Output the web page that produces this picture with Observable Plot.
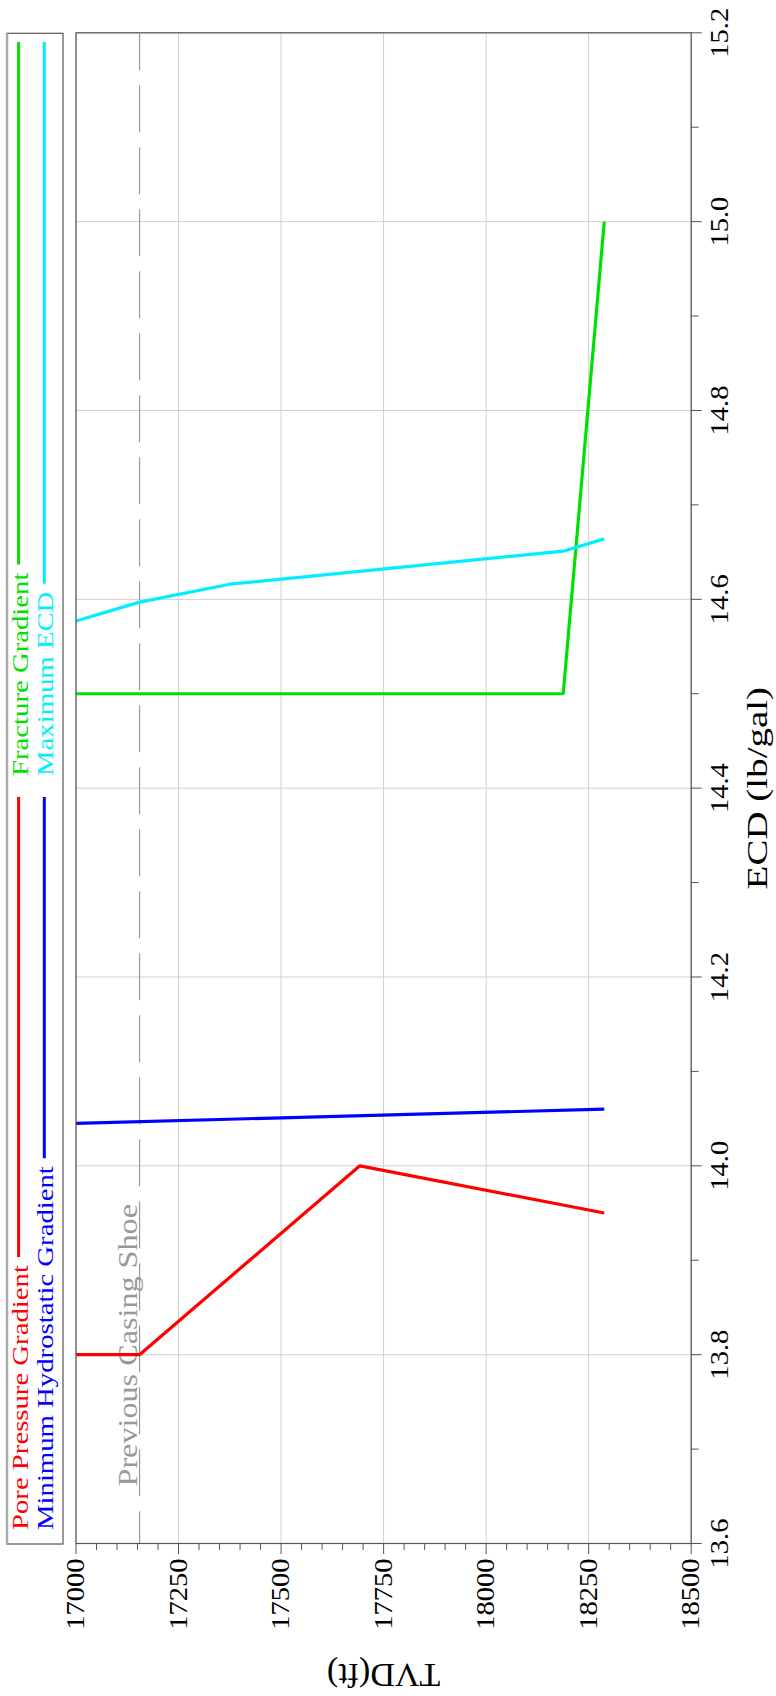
<!DOCTYPE html>
<html><head><meta charset="utf-8">
<script src="https://cdn.jsdelivr.net/npm/d3@7"></script>
<script src="https://cdn.jsdelivr.net/npm/@observablehq/plot@0.6"></script>
<style>
html,body{margin:0;padding:0;background:#fff;}
body{width:776px;height:1696px;overflow:hidden;position:relative;}
#rot{position:absolute;left:0;top:0;width:1696px;height:776px;transform-origin:0 0;transform:translate(0px,1696px) rotate(-90deg);}
#chart,#legend{position:absolute;left:0;top:0;}
</style></head><body>
<div id="rot"><div id="chart"></div><svg id="legend" width="1696" height="72"></svg></div>
<script>
// ---------- data ----------
const seriesNames  = ["Pore Pressure Gradient", "Minimum Hydrostatic Gradient", "Fracture Gradient", "Maximum ECD"];
const seriesColors = ["#ff0000", "#0000ff", "#00e000", "#00eeff"];

const porePressureTVD = [17000, 17155, 17692, 18288];
const porePressureECD = [13.80, 13.80, 14.00, 13.95];

const minHydrostaticTVD = [17000, 18288];
const minHydrostaticECD = [14.045, 14.060];

const fractureTVD = [17000, 18188, 18288];
const fractureECD = [14.50, 14.50, 15.00];

const maxEcdTVD = [17000, 17155, 17375, 18188, 18288];
const maxEcdECD = [14.577, 14.597, 14.616, 14.651, 14.664];

const shoeTVD = [17155];
const shoeLabels = ["Previous Casing Shoe"];

const ecdTicks = [13.6, 13.8, 14.0, 14.2, 14.4, 14.6, 14.8, 15.0, 15.2];
const tvdTicks = [17000, 17250, 17500, 17750, 18000, 18250, 18500];
const ecdDomain = [13.6, 15.2];
const tvdDomain = [17000, 18500];
const xLabel = "ECD (lb/gal)";
const yLabel = "TVD(ft)";

// ---------- build table ----------
const seriesTVD = [porePressureTVD, minHydrostaticTVD, fractureTVD, maxEcdTVD];
const seriesECD = [porePressureECD, minHydrostaticECD, fractureECD, maxEcdECD];
const rows = seriesNames.flatMap((name, k) => seriesTVD[k].map((t, i) => ({series: name, tvd: t, ecd: seriesECD[k][i]})));
const shoe = shoeTVD.map((t, i) => ({tvd: t, label: shoeLabels[i]}));
const ecdMinor = d3.range(ecdTicks.length - 1).map(i => +((ecdTicks[i] + ecdTicks[i + 1]) / 2).toFixed(2));
const tvdMinor = d3.range(tvdDomain[0], tvdDomain[1] + 1, 50).filter(v => !tvdTicks.includes(v));

const W = 1696, H = 776;
const frameCol = "#555";
const gridCol = "#d0d0d0";

const svg = Plot.plot({
  width: W, height: H,
  marginLeft: 152, marginRight: 33.3, marginTop: 75.5, marginBottom: 85.3,
  x: {domain: ecdDomain},
  y: {domain: tvdDomain, reverse: true},
  color: {domain: seriesNames, range: seriesColors},
  style: {fontFamily: "'Liberation Serif', serif", fontSize: "25.5px", color: "#000", background: "transparent", overflow: "visible"},
  marks: [
    Plot.gridX({ticks: ecdTicks, stroke: gridCol, strokeOpacity: 1, strokeWidth: 1}),
    Plot.gridY({ticks: tvdTicks, stroke: gridCol, strokeOpacity: 1, strokeWidth: 1}),
    Plot.ruleY(shoe, {y: "tvd", x1: () => ecdDomain[1], x2: () => ecdDomain[0], stroke: "#9a9a9a", strokeWidth: 1.2, strokeDasharray: "47,15", strokeDashoffset: 10}),
    Plot.text(shoe, {y: "tvd", text: "label", frameAnchor: "left", dx: 57, dy: -2.5, textAnchor: "start", lineAnchor: "bottom", fill: "#999", fontSize: 28}),
    Plot.line(rows, {x: "ecd", y: "tvd", z: "series", stroke: "series", strokeWidth: 3.2, strokeLinejoin: "miter", strokeLinecap: "butt"}),
    Plot.frame({stroke: frameCol, strokeWidth: 1.2}),
    Plot.axisX({ticks: ecdTicks, anchor: "bottom", tickSize: 11, tickPadding: 8, tickFormat: d => d.toFixed(1), stroke: frameCol, label: null}),
    Plot.axisX({ticks: ecdMinor, anchor: "bottom", tickSize: 8, tickFormat: () => "", stroke: frameCol, label: null}),
    Plot.axisY({ticks: tvdTicks, anchor: "left", tickSize: 10, tickPadding: 5, tickFormat: d => String(d), stroke: frameCol, label: null}),
    Plot.axisY({ticks: tvdMinor, anchor: "left", tickSize: 6, tickFormat: () => "", stroke: frameCol, label: null}),
    Plot.text([xLabel], {text: d => d, frameAnchor: "bottom", dy: 76, lineAnchor: "bottom", textAnchor: "middle", fontSize: 30, fill: "#000"}),
    Plot.text([yLabel], {text: d => d, frameAnchor: "left", dx: -120, rotate: -90, lineAnchor: "bottom", textAnchor: "middle", fontSize: 34, fill: "#000"})
  ]
});
document.getElementById("chart").appendChild(svg);

// horizontal stretch of text (reference glyphs are wider than tall)
function stretch(el, s) {
  const x = parseFloat(el.getAttribute("x")) || 0;
  const tr = el.getAttribute("transform") || "";
  el.setAttribute("transform", `${tr} translate(${x},0) scale(${s},1) translate(${-x},0)`);
}
const tickTexts = new Set([...ecdTicks.map(d => d.toFixed(1)), ...tvdTicks.map(String)]);
svg.querySelectorAll("text").forEach(t => {
  const s = t.textContent;
  if (tickTexts.has(s)) stretch(t, 1.12);
  else if (s === xLabel) stretch(t, 1.3);
  else if (shoeLabels.includes(s)) stretch(t, 1.15);
});

// ---------- legend ----------
const lg = d3.select("#legend");
const boxX0 = 152, boxX1 = W - 33.3, boxY0 = 7, boxY1 = 63;
lg.append("rect").attr("x", boxX0).attr("y", boxY0).attr("width", boxX1 - boxX0).attr("height", boxY1 - boxY0)
  .attr("fill", "#fff").attr("stroke", frameCol).attr("stroke-width", 1.2);
lg.append("line").attr("x1", boxX0).attr("x2", boxX1).attr("y1", boxY0).attr("y2", boxY0)
  .attr("stroke", "#aaa").attr("stroke-width", 2.5);
const colStart = [166, 920], colEnd = [899, 1654];
const rowBase = [28.3, 53.3], rowLine = [18.6, 44.3];
const legendCol = [0, 0, 1, 1], legendRow = [0, 1, 0, 1];
const ls = 1.25;
seriesNames.forEach((name, k) => {
  const c = legendCol[k], r = legendRow[k];
  const t = lg.append("text").attr("x", 0).attr("y", 0)
    .attr("font-family", "'Liberation Serif', serif").attr("font-size", 23)
    .attr("fill", seriesColors[k]).text(name)
    .attr("transform", `translate(${colStart[c]},${rowBase[r]}) scale(${ls},1)`);
  const len = t.node().getComputedTextLength() * ls;
  lg.append("line").attr("x1", colStart[c] + len + 8).attr("x2", colEnd[c])
    .attr("y1", rowLine[r]).attr("y2", rowLine[r])
    .attr("stroke", seriesColors[k]).attr("stroke-width", 3);
});
</script>
</body></html>
